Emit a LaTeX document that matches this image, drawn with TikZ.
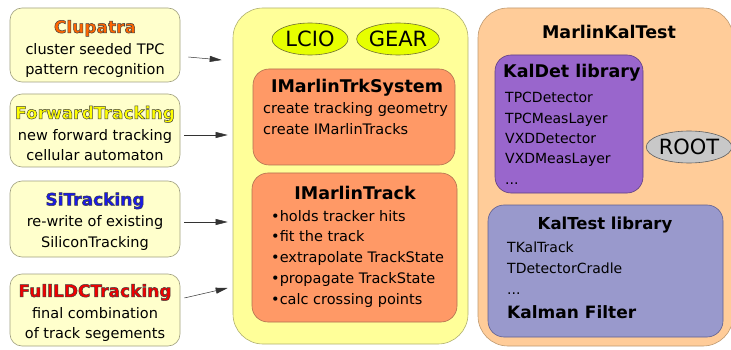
\documentclass[tikz,border=0pt]{standalone}
\usepackage{fontspec}
\setmainfont{DejaVu Sans}
\usetikzlibrary{arrows.meta,shapes.geometric,calc}
\definecolor{lbfill}{HTML}{FFFFCC}
\definecolor{lbdraw}{HTML}{A0A080}
\definecolor{midfill}{HTML}{FFFF99}
\definecolor{middraw}{HTML}{B0B070}
\definecolor{elfill}{HTML}{E6FF00}
\definecolor{eldraw}{HTML}{707030}
\definecolor{orfill}{HTML}{FF9966}
\definecolor{ordraw}{HTML}{B07050}
\definecolor{pefill}{HTML}{FFCC99}
\definecolor{pedraw}{HTML}{C09A70}
\definecolor{pufill}{HTML}{9966CC}
\definecolor{pudraw}{HTML}{604080}
\definecolor{ktfill}{HTML}{9999CC}
\definecolor{ktdraw}{HTML}{606090}
\definecolor{rtfill}{HTML}{C8C8C8}
\definecolor{rtdraw}{HTML}{606060}
\definecolor{cluc}{HTML}{FF6600}
\definecolor{fwdc}{HTML}{FFFF00}
\definecolor{sic}{HTML}{1A1AE6}
\definecolor{ldcc}{HTML}{F00000}
\newcommand{\lttfont}{\fontsize{17}{21}\selectfont\bfseries}
\newcommand{\shadowtitle}[2]{{\lttfont\textcolor{#1}{\special{pdf:literal direct 2 Tr 0.5 w 0.25 0.25 0.25 RG}#2\special{pdf:literal direct 0 Tr}}}}
\begin{document}
\begin{tikzpicture}[x=1pt,y=-1pt,
  lbox/.style={draw=lbdraw, fill=lbfill, rounded corners=12pt, minimum width=170pt, inner sep=0pt, line width=0.6pt},
  ltext/.style={align=center, inner sep=0pt, font=\fontsize{14.5}{20.5}\selectfont},
  bigbox/.style={rounded corners=30pt, line width=0.6pt},
  ell/.style={ellipse, draw=eldraw, fill=elfill, line width=0.6pt, inner sep=0pt, minimum width=76pt, minimum height=32pt, font=\fontsize{21}{24}\selectfont},
  obox/.style={draw=ordraw, fill=orfill, rounded corners=16pt, line width=0.6pt, inner sep=0pt},
  body/.style={align=left, inner sep=0pt, font=\fontsize{14.5}{20.75}\selectfont},
  small/.style={align=left, inner sep=0pt, font=\fontsize{14}{20.3}\selectfont},
  btitle/.style={inner sep=0pt, font=\fontsize{17.5}{20}\selectfont\bfseries},
  arr/.style={draw=black!80, line width=0.5pt, -{Triangle[length=12pt,width=6pt]}}
]
\useasboundingbox (0,0) rectangle (731,350);
\fill[white] (0,0) rectangle (731,350);

% left boxes
\node[lbox, minimum height=74pt] (clu) at (95,45) {};
\node[ltext] (clut) at ($(clu.center)+(0,4)$) {\shadowtitle{cluc}{Clupatra}\\[1pt]cluster seeded TPC\\pattern recognition};
\node[lbox, minimum height=73pt] (fwd) at (95,130.5) {};
\node[ltext] (fwdt) at ($(fwd.center)+(0,3)$) {\shadowtitle{fwdc}{ForwardTracking}\\[1pt]new forward tracking\\cellular automaton};
\node[lbox, minimum height=76pt] (si) at (95,219) {};
\node[ltext] (sit) at ($(si.center)+(0,2.5)$) {\shadowtitle{sic}{SiTracking}\\[1pt]re-write of existing\\SiliconTracking};
\node[lbox, minimum height=72pt] (ldc) at (95,310) {};
\node[ltext] (ldct) at ($(ldc.center)+(0,3)$) {\shadowtitle{ldcc}{FullLDCTracking}\\[1pt]final combination\\of track segements};

% middle box
\node[bigbox, draw=middraw, fill=midfill, minimum width=235pt, minimum height=336pt, inner sep=0pt] (mid) at (350.5,176) {};
\node[ell] (lcio) at (310,39) {LCIO};
\node[ell] (gear) at (398,39) {GEAR};
\node[obox, minimum width=202pt, minimum height=96pt] (trksys) at (354,117) {};
\node[btitle, anchor=base] (trksyst) at (357,93) {IMarlinTrkSystem};
\node[body, anchor=base west] (trksysb) at (263,134.75) {create tracking geometry\\create IMarlinTracks};
\node[obox, minimum width=205pt, minimum height=149pt] (trk) at (354.5,247.5) {};
\node[btitle, anchor=base] (trkt) at (355,199.5) {IMarlinTrack};
\node[body, anchor=base west] (trkb) at (271,304) {•holds tracker hits\\•fit the track\\•extrapolate TrackState\\•propagate TrackState\\•calc crossing points};

% right box
\begin{scope}
\clip (0,0) rectangle (731,350);
\node[bigbox, draw=pedraw, fill=pefill, minimum width=255pt, minimum height=338pt, inner sep=0pt] (mkt) at (605.5,177) {};
\end{scope}
\node[btitle, anchor=base] (mktt) at (609,39) {MarlinKalTest};
\node[draw=pudraw, fill=pufill, rounded corners=16pt, line width=0.6pt, minimum width=148pt, minimum height=138pt, inner sep=0pt] (kaldet) at (569,124) {};
\node[inner sep=0pt, anchor=base west, font=\fontsize{17.5}{20}\selectfont\bfseries] (kaldett) at (503,78) {KalDet library};
\node[small, anchor=base west] (kaldetb) at (505,184.2) {TPCDetector\\TPCMeasLayer\\VXDDetector\\VXDMeasLayer\\...};
\node[ellipse, draw=rtdraw, fill=rtfill, line width=0.6pt, inner sep=0pt, minimum width=67pt, minimum height=32pt, font=\fontsize{21}{24}\selectfont] (root) at (689,147) {ROOT};
\node[draw=ktdraw, fill=ktfill, rounded corners=16pt, line width=0.6pt, minimum width=235pt, minimum height=132pt, inner sep=0pt] (kaltest) at (605.5,271) {};
\node[inner sep=0pt, anchor=base, font=\fontsize{16.5}{18}\selectfont\bfseries] (kaltestt) at (605,229) {KalTest library};
\node[small, anchor=base west, font=\fontsize{14}{21}\selectfont] (kaltestb) at (507,294) {TKalTrack\\TDetectorCradle\\...};
\node[inner sep=0pt, anchor=base west, font=\fontsize{17}{18}\selectfont\bfseries] (kalman) at (507,318) {Kalman Filter};

% arrows
\draw[arr] ($(clu.east)+(8,12)$) -- ($(mid.west)+(-11,-116)$);
\draw[arr] ($(fwd.east)+(4,4.5)$) -- ($(mid.west)+(-5,-41)$);
\draw[arr] ($(si.east)+(4,3)$) -- ($(mid.west)+(-5,46)$);
\draw[arr] ($(ldc.east)+(4,-12)$) -- ($(mid.west)+(-5,112)$);
\end{tikzpicture}
\end{document}
